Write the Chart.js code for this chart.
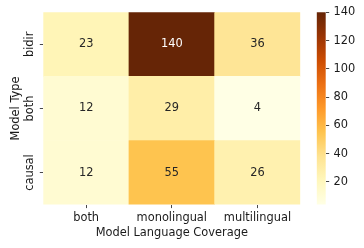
<!DOCTYPE html>
<html>
<head>
<meta charset="utf-8">
<script src="https://cdn.jsdelivr.net/npm/chart.js@4"></script>
<style>
html, body { margin: 0; padding: 0; background: #fff; }
#wrap { position: relative; width: 364px; height: 248px; }
#wrap canvas { position: absolute; left: 0; top: 0; }
</style>
</head>
<body>
<div id="wrap">
<canvas id="heatmap" width="364" height="248"></canvas>
<canvas id="colorbar" width="364" height="248"></canvas>
</div>
<script>
// data
const languageCoverage = ['both', 'monolingual', 'multilingual'];
const modelTypes = ['bidir', 'both', 'causal'];
const bidirCounts = [23, 140, 36];
const bothCounts = [12, 29, 4];
const causalCounts = [12, 55, 26];
const colorbarTicks = [20, 40, 60, 80, 100, 120, 140];
const colorMin = 4;
const colorMax = 140;

// YlOrBr colormap stops
const ylOrBr = ['#ffffe5', '#fff7bc', '#fee391', '#fec44f', '#fe9929', '#ec7014', '#cc4c02', '#993404', '#662506'];

const FONT_FAMILY = 'DejaVu Sans';
const FONT_SIZE = 11.4;
Chart.defaults.font.family = FONT_FAMILY;
Chart.defaults.font.size = FONT_SIZE;
Chart.defaults.color = '#1a1a1a';

function hexToRgb(h) {
    return [1, 3, 5].map(i => parseInt(h.substr(i, 2), 16));
}

function cellColor(v) {
    let t = (v - colorMin) / (colorMax - colorMin);
    t = Math.max(0, Math.min(1, t)) * (ylOrBr.length - 1);
    const i = Math.min(Math.floor(t), ylOrBr.length - 2);
    const f = t - i;
    const a = hexToRgb(ylOrBr[i]);
    const b = hexToRgb(ylOrBr[i + 1]);
    const c = a.map((x, k) => Math.round(x + (b[k] - x) * f));
    return `rgb(${c[0]}, ${c[1]}, ${c[2]})`;
}

// rows bottom to top for stacking
const rows = [causalCounts, bothCounts, bidirCounts];

// measure widest y label so rotated labels can be centred
const measureCtx = document.createElement('canvas').getContext('2d');
measureCtx.font = `${FONT_SIZE}px "${FONT_FAMILY}"`;
const widestType = Math.max(...modelTypes.map(t => measureCtx.measureText(t).width));

const cellLabels = {
    id: 'cellLabels',
    afterDatasetsDraw(chart) {
        const ctx = chart.ctx;
        ctx.save();
        ctx.font = `${FONT_SIZE}px "${FONT_FAMILY}"`;
        ctx.textAlign = 'center';
        ctx.textBaseline = 'middle';
        rows.forEach((row, d) => {
            chart.getDatasetMeta(d).data.forEach((bar, i) => {
                const v = row[i];
                ctx.fillStyle = v > 90 ? '#ffffff' : '#262626';
                ctx.fillText(String(v), bar.x, (bar.y + bar.base) / 2);
            });
        });
        ctx.restore();
    }
};

const heatCtx = document.getElementById('heatmap').getContext('2d');
new Chart(heatCtx, {
    type: 'bar',
    data: {
        labels: languageCoverage,
        datasets: rows.map((row, d) => ({
            label: modelTypes[2 - d],
            data: row.map(() => 1),
            backgroundColor: row.map(cellColor),
            borderWidth: 0,
            barPercentage: 1,
            categoryPercentage: 1
        }))
    },
    options: {
        responsive: false,
        animation: false,
        layout: { padding: { top: 12.3, right: 63.7, left: 0, bottom: 0 } },
        plugins: { legend: { display: false }, tooltip: { enabled: false } },
        scales: {
            x: {
                stacked: true,
                grid: { display: true, drawOnChartArea: false, offset: false, tickLength: 3.5, color: '#333', lineWidth: 0.9 },
                border: { display: false },
                ticks: { padding: 3, autoSkip: false, maxRotation: 0 },
                title: { display: true, text: 'Model Language Coverage', padding: { top: 0, bottom: 8 } },
                afterFit: s => { s.height = 43.4; }
            },
            y: {
                stacked: true,
                min: 0,
                max: 3,
                afterBuildTicks: s => { s.ticks = modelTypes.map((_, i) => ({ value: 2.5 - i })); },
                grid: { display: true, drawOnChartArea: false, tickLength: 3.5, color: '#333', lineWidth: 0.9 },
                border: { display: false },
                ticks: {
                    minRotation: 90,
                    maxRotation: 90,
                    crossAlign: 'center',
                    autoSkip: false,
                    padding: 9.5 - widestType / 2,
                    callback: v => modelTypes[Math.round(2.5 - v)]
                },
                title: { display: true, text: 'Model Type', padding: { top: 9.2, bottom: 0 } },
                afterFit: s => { s.width = 43.3; }
            }
        }
    },
    plugins: [cellLabels]
});

// colour bar
const barCtx = document.getElementById('colorbar').getContext('2d');
new Chart(barCtx, {
    type: 'bar',
    data: {
        labels: [''],
        datasets: [{
            data: [[colorMin, colorMax]],
            backgroundColor: context => {
                const { ctx, chartArea } = context.chart;
                if (!chartArea) return ylOrBr[0];
                const g = ctx.createLinearGradient(0, chartArea.bottom, 0, chartArea.top);
                ylOrBr.forEach((c, i) => g.addColorStop(i / (ylOrBr.length - 1), c));
                return g;
            },
            borderWidth: 0,
            barPercentage: 1,
            categoryPercentage: 1
        }]
    },
    options: {
        responsive: false,
        animation: false,
        layout: { padding: { top: 12.3, right: 0, left: 316.7, bottom: 43.4 } },
        plugins: { legend: { display: false }, tooltip: { enabled: false } },
        scales: {
            x: { display: false },
            y: {
                position: 'right',
                min: colorMin,
                max: colorMax,
                afterBuildTicks: s => { s.ticks = colorbarTicks.map(v => ({ value: v })); },
                grid: { display: true, drawOnChartArea: false, tickLength: 3.5, color: '#333', lineWidth: 0.9 },
                border: { display: false },
                ticks: { padding: 4.3, autoSkip: false },
                afterFit: s => { s.width = 38.3; }
            }
        }
    }
});
</script>
</body>
</html>
